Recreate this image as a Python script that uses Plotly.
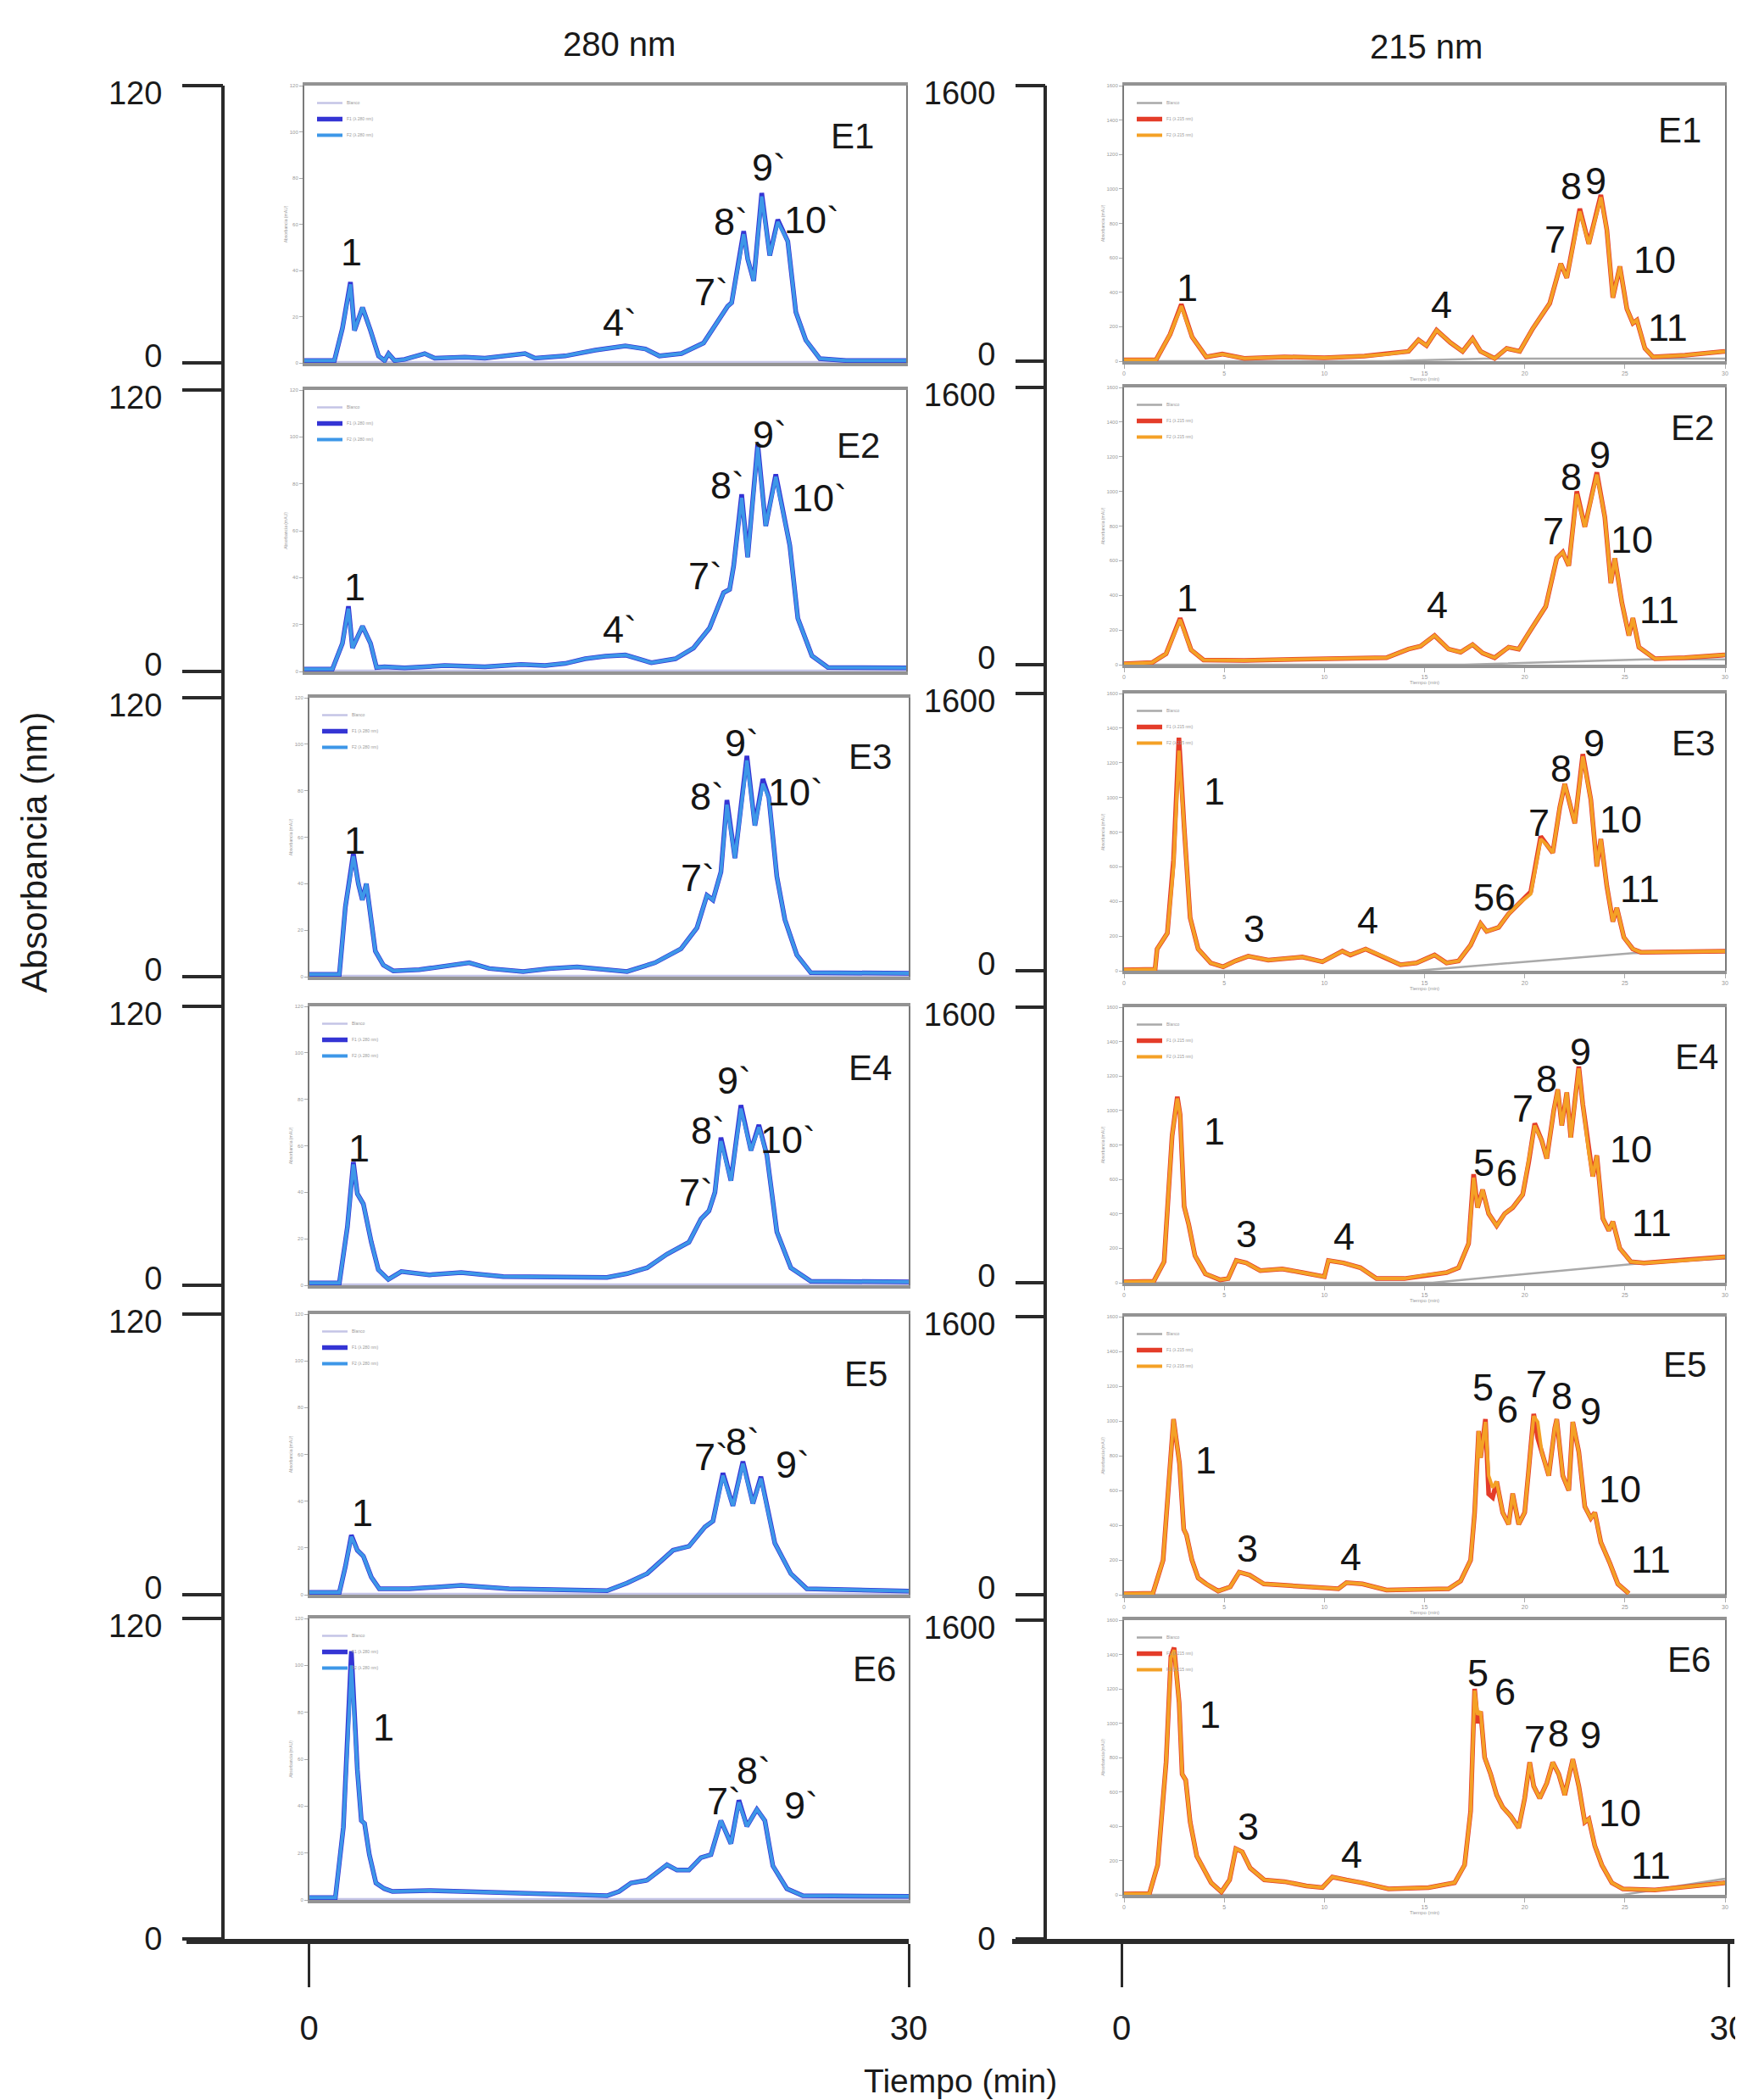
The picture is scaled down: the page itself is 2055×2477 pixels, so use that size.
import plotly.graph_objects as go

W, H = 2055, 2477
FONT_N = "Liberation Sans, Arial, sans-serif"
FONT_R = "Liberation Sans, Arial, sans-serif"

# ------------------------------------------------------------------ data
SAMPLES = ["E1", "E2", "E3", "E4", "E5", "E6"]
WAVELENGTHS = ["280 nm", "215 nm"]
OUTER_X_TICKS = [0, 30]
OUTER_Y_TOP_280 = 120
OUTER_Y_TOP_215 = 1600
INNER_X_TICKS = [0, 5, 10, 15, 20, 25, 30]
INNER_Y_TICKS_280 = [0, 20, 40, 60, 80, 100, 120]
INNER_Y_TICKS_215 = [0, 200, 400, 600, 800, 1000, 1200, 1400, 1600]
LEGEND_NAMES_280 = ["Blanco", "F1 (λ 280 nm)", "F2 (λ 280 nm)"]
LEGEND_NAMES_215 = ["Blanco", "F1 (λ 215 nm)", "F2 (λ 215 nm)"]

# ---- 280 nm (left column) : time (min), absorbance
T_280_E1 = [0, 1.5, 1.9, 2.3, 2.5, 2.9, 3.3, 3.7, 4.0, 4.2, 4.5, 5.0, 6.0, 6.5, 8.0, 9.0, 11.0, 11.5, 13.0, 14.5,
            16.0, 17.0, 17.7, 18.8, 19.9, 20.6, 21.1, 21.3, 21.6, 21.9, 22.1, 22.4, 22.8, 23.2, 23.6, 24.1, 24.5,
            25.0, 25.7, 27.0, 30.0]
F2_280_E1 = [1, 1, 15, 34, 14, 24, 14, 3, 1, 4, 1, 1.5, 4, 2, 2.5, 2, 4, 2, 3, 5.5,
             7.3, 6, 3, 4, 8.6, 18, 24.5, 26, 41.6, 55.7, 45, 35.5, 72, 46.5, 61, 52.6, 22,
             9.8, 1.8, 1, 1]
F1_280_E1 = [1, 1, 15, 35, 14, 24, 14, 3, 1, 4, 1, 1.5, 4, 2, 2.5, 2, 4, 2, 3, 5.5,
             7.3, 6, 3, 4, 8.6, 18, 24.5, 26, 41.6, 57, 45, 35.5, 73.5, 46.5, 62, 52.6, 22,
             9.8, 1.8, 1, 1]

T_280_E2 = [0, 1.4, 1.9, 2.2, 2.4, 2.9, 3.3, 3.6, 4.0, 5.0, 7.0, 9.0, 10.8, 12.0, 13.0, 14.0, 15.0, 16.0, 17.3,
            18.5, 19.4, 20.2, 20.9, 21.2, 21.4, 21.8, 22.1, 22.6, 23.0, 23.5, 24.2, 24.6, 25.3, 26.1, 30.0]
F2_280_E2 = [1, 1, 12, 26.8, 10, 19.3, 12, 1.7, 2, 1.5, 2.5, 2, 3, 2.5, 3.4, 5.4, 6.5, 7, 3.7,
             5.4, 10, 18.5, 33.6, 35, 45, 74, 48.7, 95.6, 62, 83, 53.7, 22.6, 6.7, 1.7, 1.5]
F1_280_E2 = [1, 1, 12, 27.8, 10, 19.3, 12, 1.7, 2, 1.5, 2.5, 2, 3, 2.5, 3.4, 5.4, 6.5, 7, 3.7,
             5.4, 10, 18.5, 33.6, 35, 45, 75.5, 48.7, 97, 62, 84, 53.7, 22.6, 6.7, 1.7, 1.5]

T_280_E3 = [0, 1.5, 1.8, 2.2, 2.45, 2.65, 2.85, 3.05, 3.3, 3.7, 4.2, 5.5, 8.0, 9.0, 10.7, 12.0, 13.4, 15.9, 17.3,
            18.6, 19.4, 19.9, 20.2, 20.6, 20.9, 21.3, 21.9, 22.3, 22.7, 23.0, 23.4, 23.8, 24.4, 25.1, 30.0]
F2_280_E3 = [1, 1, 30, 51.8, 40, 33, 40, 28, 11, 5, 2.5, 3, 6, 3.5, 2.2, 3.5, 4.2, 2.2, 6,
             12, 21, 35, 33, 45, 74, 51, 93, 65, 83, 77, 43, 24.6, 9.3, 1.7, 1.5]
F1_280_E3 = [1, 1, 30, 53, 40, 33, 40, 28, 11, 5, 2.5, 3, 6, 3.5, 2.2, 3.5, 4.2, 2.2, 6,
             12, 21, 35, 33, 45, 76, 51, 95, 65, 85, 77, 43, 24.6, 9.3, 1.7, 1.5]

T_280_E4 = [0, 1.5, 1.9, 2.2, 2.4, 2.7, 3.1, 3.45, 3.95, 4.6, 6.0, 7.6, 9.7, 12.0, 14.9, 15.9, 16.9, 17.9, 19.0,
            19.6, 20.0, 20.3, 20.6, 21.1, 21.6, 22.1, 22.5, 22.9, 23.4, 24.1, 25.1, 30.0]
F2_280_E4 = [1, 1, 25, 52, 39.4, 35, 18.5, 6.7, 2.5, 5.9, 4.5, 5.5, 3.7, 3.5, 3.4, 5, 7.5, 13.4, 18.5,
             28.5, 32, 40, 62, 45, 76, 58, 68, 56, 23, 7.5, 1.7, 1.5]
F1_280_E4 = [1, 1, 25, 53, 39.4, 35, 18.5, 6.7, 2.5, 5.9, 4.5, 5.5, 3.7, 3.5, 3.4, 5, 7.5, 13.4, 18.5,
             28.5, 32, 40, 63.5, 45, 77.5, 58, 69, 56, 23, 7.5, 1.7, 1.5]

T_280_E5 = [0, 1.5, 1.8, 2.1, 2.4, 2.7, 3.1, 3.5, 5.0, 7.6, 10.0, 14.9, 15.9, 16.9, 18.2, 19.0, 19.8, 20.2, 20.7,
            21.2, 21.7, 22.2, 22.6, 23.3, 24.1, 24.9, 30.0]
F2_280_E5 = [1, 1, 12, 24.8, 19, 16.5, 7.5, 2.5, 2.5, 4, 2.5, 1.7, 5, 9, 19, 20.7, 29, 31.5, 51,
             38, 56, 39, 49.7, 22, 9, 2.5, 1.5]
F1_280_E5 = [1, 1, 12, 25.5, 19, 16.5, 7.5, 2.5, 2.5, 4, 2.5, 1.7, 5, 9, 19, 20.7, 29, 31.5, 52,
             38, 57, 39, 50.5, 22, 9, 2.5, 1.5]

T_280_E6 = [0, 1.3, 1.7, 2.1, 2.4, 2.6, 2.76, 3.0, 3.33, 3.75, 4.16, 6.0, 8.0, 9.5, 12.0, 14.9, 15.5, 16.1, 16.9,
            17.9, 18.4, 19.0, 19.6, 20.1, 20.6, 21.1, 21.5, 21.9, 22.4, 22.8, 23.2, 23.9, 24.7, 30.0]
F2_280_E6 = [1, 1, 31, 100, 55.5, 33.8, 32.6, 19.3, 7.2, 4.8, 3.6, 4, 3.5, 3, 2.5, 1.8, 3.6, 7.2, 8.4,
             15, 12.7, 12.7, 18, 19.3, 33.8, 24, 41.6, 31.4, 38.6, 33.8, 14.5, 4.8, 1.8, 1.5]
F1_280_E6 = [1, 1, 31, 106, 55.5, 33.8, 32.6, 19.3, 7.2, 4.8, 3.6, 4, 3.5, 3, 2.5, 1.8, 3.6, 7.2, 8.4,
             15, 12.7, 12.7, 18, 19.3, 33.8, 24, 42.5, 31.4, 38.6, 33.8, 14.5, 4.8, 1.8, 1.5]

BLANK_T_280 = [0, 30]
BLANK_280 = [0.4, 0.4]

# ---- 215 nm (right column)
T_215_E1 = [0, 1.6, 2.3, 2.86, 3.4, 4.1, 4.9, 6.0, 8.0, 10.0, 12.0, 13.1, 14.2, 14.7, 15.1, 15.6, 16.3, 16.9, 17.4,
            17.8, 18.5, 19.1, 19.75, 20.4, 21.25, 21.8, 22.1, 22.75, 23.2, 23.8, 24.1, 24.4, 24.75, 25.1, 25.4,
            25.6, 26.0, 26.4, 28.0, 30.0]
F2_215_E1 = [8, 8, 156, 320, 140, 25, 41, 16, 25, 20, 30, 41, 57, 123, 90, 180, 107, 57, 131,
             57, 16, 74, 57, 189, 336, 566, 484, 870, 681, 952, 763, 369, 550, 304, 221,
             238, 74, 25, 35, 57]
F1_215_E1 = [8, 8, 156, 330, 140, 25, 41, 16, 25, 20, 30, 41, 57, 123, 90, 180, 107, 57, 131,
             57, 16, 74, 57, 189, 336, 566, 484, 885, 681, 965, 763, 369, 550, 304, 221,
             238, 74, 25, 35, 57]
BLANK_T_215_E1 = [0, 13, 18, 30]
BLANK_215_E1 = [0, 0, 15, 15]

T_215_E2 = [0, 1.4, 2.1, 2.8, 3.35, 3.97, 6.0, 9.0, 13.1, 14.2, 14.8, 15.5, 16.2, 16.8, 17.4, 17.9, 18.5, 19.2,
            19.7, 20.3, 21.05, 21.6, 21.9, 22.2, 22.6, 23.0, 23.6, 24.0, 24.3, 24.5, 24.85, 25.2, 25.4, 25.7,
            26.1, 26.5, 28.0, 30.0]
F2_215_E2 = [5, 12, 63, 260, 85, 27, 25, 30, 40, 90, 107, 168, 90, 72, 116, 67, 40, 101,
             90, 201, 336, 615, 649, 571, 985, 795, 1097, 851, 470, 615, 358, 168, 269, 101,
             67, 34, 40, 56]
F1_215_E2 = [5, 12, 63, 268, 85, 27, 25, 30, 40, 90, 107, 168, 90, 72, 116, 67, 40, 101,
             90, 201, 336, 615, 649, 571, 1000, 795, 1110, 851, 470, 615, 358, 168, 269, 101,
             67, 34, 40, 56]
BLANK_T_215_E2 = [0, 17, 26, 30]
BLANK_215_E2 = [0, 0, 30, 30]

T_215_E3 = [0, 1.55, 1.65, 2.16, 2.47, 2.74, 3.0, 3.3, 3.7, 4.33, 4.95, 5.57, 6.2, 7.2, 8.9, 9.9, 10.9, 11.3,
            12.06, 13.0, 13.8, 14.6, 15.5, 16.1, 16.7, 17.3, 17.8, 18.1, 18.7, 19.2, 19.8, 20.3, 20.8, 21.1,
            21.4, 21.75, 22.0, 22.5, 22.9, 23.3, 23.6, 23.8, 24.1, 24.4, 24.6, 24.95, 25.4, 25.8, 28.0, 30.0]
F2_215_E3 = [5, 8, 125, 216, 602, 1270, 830, 306, 125, 45, 23, 57, 84, 61, 79, 52, 113, 91,
             125, 79, 34, 45, 91, 45, 57, 148, 272, 227, 250, 329, 397, 443, 760, 726,
             681, 942, 1078, 851, 1237, 988, 602, 760, 488, 284, 363, 193, 125, 107, 110, 113]
F1_215_E3 = [5, 8, 125, 216, 640, 1345, 830, 306, 125, 45, 23, 57, 84, 61, 79, 52, 113, 91,
             125, 79, 34, 45, 91, 45, 57, 148, 272, 227, 250, 329, 397, 455, 775, 726,
             681, 942, 1078, 851, 1250, 988, 602, 760, 488, 284, 363, 193, 125, 107, 110, 113]
BLANK_T_215_E3 = [0, 14.6, 25.4, 30]
BLANK_215_E3 = [0, 0, 102, 108]

T_215_E4 = [0, 1.48, 2.0, 2.4, 2.66, 2.8, 3.0, 3.23, 3.54, 4.06, 4.8, 5.2, 5.6, 6.1, 6.8, 7.9, 8.9, 10.0, 10.2,
            10.95, 11.8, 12.6, 14.0, 15.1, 16.1, 16.7, 17.2, 17.45, 17.65, 17.9, 18.2, 18.6, 19.0, 19.4, 19.9,
            20.2, 20.5, 20.85, 21.1, 21.45, 21.65, 21.85, 22.1, 22.3, 22.7, 22.9, 23.2, 23.4, 23.6, 23.9, 24.2,
            24.4, 24.75, 25.3, 25.95, 28.0, 30.0]
F2_215_E4 = [5, 8, 122, 854, 1070, 976, 443, 338, 157, 52, 17, 24, 129, 115, 70, 80, 59, 35, 129,
             115, 87, 24, 24, 45, 59, 87, 227, 610, 436, 540, 401, 331, 401, 436, 512,
             721, 913, 826, 721, 1000, 1122, 913, 1105, 843, 1244, 1035, 756, 617, 739, 373, 303,
             355, 199, 122, 115, 130, 150]
F1_215_E4 = [5, 8, 122, 854, 1080, 976, 443, 338, 157, 52, 17, 24, 129, 115, 70, 80, 59, 35, 129,
             115, 87, 24, 24, 45, 59, 87, 227, 630, 436, 540, 401, 331, 401, 436, 512,
             700, 925, 826, 721, 1000, 1122, 913, 1105, 843, 1255, 1035, 756, 617, 739, 373, 303,
             355, 199, 122, 115, 130, 150]
BLANK_T_215_E4 = [0, 15.4, 25.95, 30]
BLANK_215_E4 = [0, 0, 115, 140]

T_215_E5 = [0, 1.44, 1.95, 2.47, 2.77, 2.98, 3.12, 3.39, 3.7, 4.1, 4.7, 5.3, 5.75, 6.27, 6.98, 9.0, 10.7, 11.1,
            11.9, 13.1, 16.2, 16.8, 17.3, 17.5, 17.7, 17.8, 18.04, 18.2, 18.4, 18.6, 18.9, 19.2, 19.4, 19.7,
            20.0, 20.2, 20.45, 20.65, 20.85, 21.2, 21.5, 21.6, 21.9, 22.2, 22.4, 22.7, 23.0, 23.3, 23.5, 23.8,
            24.25, 24.65, 25.2]
F2_215_E5 = [5, 8, 199, 1010, 754, 377, 343, 199, 96, 62, 21, 45, 130, 113, 62, 45, 34, 69,
             62, 27, 34, 79, 199, 473, 942, 788, 994, 685, 617, 651, 473, 405, 582, 405,
             473, 720, 1028, 994, 822, 685, 959, 1010, 685, 600, 994, 822, 507, 440, 473, 302,
             182, 62, 7]
F1_215_E5 = [5, 8, 199, 1010, 754, 377, 343, 199, 96, 62, 21, 45, 130, 113, 62, 45, 34, 69,
             62, 27, 34, 79, 199, 473, 942, 788, 1010, 580, 560, 651, 473, 405, 582, 405,
             473, 720, 1040, 900, 822, 685, 959, 1010, 685, 600, 994, 822, 507, 440, 473, 302,
             182, 62, 7]
BLANK_T_215_E5 = [0, 30]
BLANK_215_E5 = [0, 0]

T_215_E6 = [0, 1.27, 1.68, 2.1, 2.34, 2.5, 2.75, 2.9, 3.08, 3.3, 3.63, 3.94, 4.35, 4.86, 5.27, 5.58, 5.9, 6.3,
            7.0, 8.0, 9.1, 9.9, 10.4, 11.1, 11.9, 13.2, 15.2, 16.5, 17.0, 17.3, 17.5, 17.65, 17.8, 18.0, 18.3,
            18.6, 18.9, 19.3, 19.7, 20.0, 20.25, 20.45, 20.75, 21.1, 21.4, 21.7, 22.0, 22.4, 22.7, 23.0, 23.2,
            23.5, 23.85, 24.35, 24.9, 26.5, 30.0]
F2_215_E6 = [5, 8, 174, 772, 1381, 1426, 1120, 703, 668, 424, 226, 160, 70, 17, 87, 268, 250, 156,
             87, 77, 52, 42, 104, 87, 70, 35, 42, 70, 174, 487, 1190, 1050, 1068, 800, 703,
             581, 511, 459, 390, 563, 772, 633, 563, 650, 772, 703, 581, 790, 633, 424, 442,
             285, 174, 70, 35, 28, 70]
F1_215_E6 = [5, 8, 174, 772, 1390, 1440, 1120, 703, 668, 424, 226, 160, 70, 17, 87, 268, 250, 156,
             87, 77, 52, 42, 104, 87, 70, 35, 42, 70, 174, 487, 1200, 1000, 1068, 800, 703,
             581, 511, 459, 390, 563, 772, 633, 563, 650, 772, 703, 581, 790, 633, 424, 442,
             285, 174, 70, 35, 28, 70]
BLANK_T_215_E6 = [0, 24.9, 30]
BLANK_215_E6 = [0, 0, 94]

# peak labels (text, time, absorbance)
PEAKS_280 = {
    "E1": [("1", 2.35, 48), ("4`", 15.7, 17.5), ("7`", 20.3, 30.5), ("8`", 21.25, 61), ("9`", 23.15, 84.5), ("10`", 25.3, 62)],
    "E2": [("1", 2.5, 36), ("4`", 15.7, 18), ("7`", 20.0, 40.5), ("8`", 21.1, 79.5), ("9`", 23.2, 101), ("10`", 25.65, 74)],
    "E3": [("1", 2.25, 58.5), ("7`", 19.45, 42.5), ("8`", 19.9, 77.5), ("9`", 21.65, 100.5), ("10`", 24.35, 79.5)],
    "E4": [("1", 2.5, 59), ("7`", 19.35, 40), ("8`", 19.95, 66.5), ("9`", 21.25, 88), ("10`", 23.95, 62.5)],
    "E5": [("1", 2.65, 35), ("7`", 20.1, 59), ("8`", 21.7, 65.5), ("9`", 24.2, 55.5)],
    "E6": [("1", 3.7, 73.5), ("7`", 20.75, 42), ("8`", 22.25, 55), ("9`", 24.6, 40.3)],
}
PEAKS_215 = {
    "E1": [("1", 3.15, 428), ("4", 15.85, 325), ("7", 21.5, 705), ("8", 22.3, 1016), ("9", 23.55, 1048), ("10", 26.5, 588), ("11", 27.15, 195)],
    "E2": [("1", 3.15, 386), ("4", 15.65, 345), ("7", 21.45, 769), ("8", 22.3, 1083), ("9", 23.75, 1209), ("10", 25.35, 723), ("11", 26.7, 318)],
    "E3": [("1", 4.5, 1035), ("3", 6.5, 242), ("4", 12.15, 293), ("56", 18.5, 421), ("7", 20.7, 856), ("8", 21.8, 1167), ("9", 23.45, 1316), ("10", 24.8, 875), ("11", 25.75, 473)],
    "E4": [("1", 4.5, 877), ("3", 6.1, 284), ("4", 11.0, 268), ("5", 17.95, 695), ("6", 19.1, 638), ("7", 19.9, 1013), ("8", 21.1, 1182), ("9", 22.8, 1342), ("10", 25.3, 774), ("11", 26.35, 346)],
    "E5": [("1", 4.1, 771), ("3", 6.15, 264), ("4", 11.3, 215), ("5", 17.9, 1192), ("6", 19.15, 1066), ("7", 20.6, 1210), ("8", 21.85, 1143), ("9", 23.3, 1054), ("10", 24.75, 608), ("11", 26.3, 202)],
    "E6": [("1", 4.3, 1048), ("3", 6.2, 398), ("4", 11.35, 233), ("5", 17.65, 1291), ("6", 19.0, 1184), ("7", 20.5, 904), ("8", 21.7, 941), ("9", 23.3, 933), ("10", 24.75, 476), ("11", 26.3, 168)],
}
SAMPLE_LABEL_POS_280 = {"E1": (27.3, 98), "E2": (27.6, 96.5), "E3": (28.05, 94.5), "E4": (28.05, 93.5), "E5": (27.85, 94.3), "E6": (28.3, 98.5)}
SAMPLE_LABEL_POS_215 = {"E1": (27.75, 1342), "E2": (28.35, 1367), "E3": (28.4, 1312), "E4": (28.6, 1310), "E5": (28.0, 1322), "E6": (28.2, 1368)}

SERIES_280 = {
    "E1": (T_280_E1, F1_280_E1, F2_280_E1, BLANK_T_280, BLANK_280),
    "E2": (T_280_E2, F1_280_E2, F2_280_E2, BLANK_T_280, BLANK_280),
    "E3": (T_280_E3, F1_280_E3, F2_280_E3, BLANK_T_280, BLANK_280),
    "E4": (T_280_E4, F1_280_E4, F2_280_E4, BLANK_T_280, BLANK_280),
    "E5": (T_280_E5, F1_280_E5, F2_280_E5, BLANK_T_280, BLANK_280),
    "E6": (T_280_E6, F1_280_E6, F2_280_E6, BLANK_T_280, BLANK_280),
}
SERIES_215 = {
    "E1": (T_215_E1, F1_215_E1, F2_215_E1, BLANK_T_215_E1, BLANK_215_E1),
    "E2": (T_215_E2, F1_215_E2, F2_215_E2, BLANK_T_215_E2, BLANK_215_E2),
    "E3": (T_215_E3, F1_215_E3, F2_215_E3, BLANK_T_215_E3, BLANK_215_E3),
    "E4": (T_215_E4, F1_215_E4, F2_215_E4, BLANK_T_215_E4, BLANK_215_E4),
    "E5": (T_215_E5, F1_215_E5, F2_215_E5, BLANK_T_215_E5, BLANK_215_E5),
    "E6": (T_215_E6, F1_215_E6, F2_215_E6, BLANK_T_215_E6, BLANK_215_E6),
}

# ------------------------------------------------------------------ geometry (pixels)
def fx(x):
    return x / W


def fy(y):
    return 1 - y / H


FRAMES_280 = [(351, 1061, 93, 420), (351, 1061, 452, 784), (357, 1064, 815, 1144),
              (357, 1064, 1179, 1508), (357, 1064, 1542, 1873), (357, 1064, 1901, 2233)]
FRAMES_215 = [(1318, 2027, 93, 418), (1318, 2027, 449, 776), (1318, 2027, 810, 1137),
              (1318, 2027, 1180, 1505), (1318, 2027, 1545, 1873), (1318, 2027, 1903, 2227)]
AXIS_Y = 2279
COLS = [
    dict(series=SERIES_280, frames=FRAMES_280, peaks=PEAKS_280, slab=SAMPLE_LABEL_POS_280,
         yrange=[0, 120], inner_yt=INNER_Y_TICKS_280, top=OUTER_Y_TOP_280, names=LEGEND_NAMES_280,
         c_blank="#c4c4e6", c1="#3434d4", c2="#3d97e8", show_x=False,
         vline_x=255, xline=(212, 1064), x0=356.5, x30=1064, ticklen=48, title_x=722, title_y=44),
    dict(series=SERIES_215, frames=FRAMES_215, peaks=PEAKS_215, slab=SAMPLE_LABEL_POS_215,
         yrange=[0, 1600], inner_yt=INNER_Y_TICKS_215, top=OUTER_Y_TOP_215, names=LEGEND_NAMES_215,
         c_blank="#a9a9a9", c1="#e43c29", c2="#f4a126", show_x=True,
         vline_x=1225, xline=(1186, 2038), x0=1315, x30=2031, ticklen=35, title_x=1674, title_y=47),
]

fig = go.Figure()
layout = dict(width=W, height=H, autosize=False,
              margin=dict(l=0, r=0, t=0, b=0, pad=0, autoexpand=False),
              paper_bgcolor="white", plot_bgcolor="rgba(0,0,0,0)", showlegend=True,
              font=dict(family=FONT_N, color="#111"))
annotations = []

idx = 0
for c, col in enumerate(COLS):
    for r, sample in enumerate(SAMPLES):
        idx += 1
        xa, ya = ("x", "y") if idx == 1 else (f"x{idx}", f"y{idx}")
        lg = "legend" if idx == 1 else f"legend{idx}"
        t, f1, f2, bt, bv = col["series"][sample]
        x_l, x_r, y_t, y_b = col["frames"][r]
        fig.add_trace(go.Scatter(x=bt, y=bv, mode="lines", name=col["names"][0], xaxis=xa, yaxis=ya,
                                 legend=lg, line=dict(color=col["c_blank"], width=2.5), hoverinfo="skip"))
        fig.add_trace(go.Scatter(x=t, y=f1, mode="lines", name=col["names"][1], xaxis=xa, yaxis=ya,
                                 legend=lg, line=dict(color=col["c1"], width=5.5)))
        fig.add_trace(go.Scatter(x=t, y=f2, mode="lines", name=col["names"][2], xaxis=xa, yaxis=ya,
                                 legend=lg, line=dict(color=col["c2"], width=4)))
        xkey = "xaxis" if idx == 1 else f"xaxis{idx}"
        ykey = "yaxis" if idx == 1 else f"yaxis{idx}"
        layout[xkey] = dict(domain=[fx(x_l), fx(x_r)], range=[0, 30], anchor=ya, showgrid=False, zeroline=False,
                            showline=True, mirror=True, linecolor="#939393", linewidth=4,
                            tickvals=INNER_X_TICKS, ticks="outside" if col["show_x"] else "", ticklen=5,
                            tickcolor="#aaa", showticklabels=col["show_x"], automargin=False,
                            tickfont=dict(size=7, color="#999", family=FONT_R),
                            title=dict(text="Tiempo (min)" if col["show_x"] else "", standoff=2,
                                       font=dict(size=6, color="#999", family=FONT_R)))
        layout[ykey] = dict(domain=[fy(y_b), fy(y_t)], range=col["yrange"], anchor=xa, showgrid=False,
                            zeroline=False, showline=True, mirror=True, linecolor="#7a7a7a", linewidth=2,
                            tickvals=col["inner_yt"], ticks="outside", ticklen=4, tickcolor="#aaa",
                            automargin=False, tickfont=dict(size=6, color="#999", family=FONT_R),
                            title=dict(text="Absorbancia (mAU)", standoff=2,
                                       font=dict(size=5, color="#999", family=FONT_R)))
        layout[lg] = dict(x=fx(x_l + 10), y=fy(y_t + 6), xanchor="left", yanchor="top",
                          bgcolor="rgba(0,0,0,0)", font=dict(size=5, color="#999", family=FONT_R),
                          itemwidth=30, tracegroupgap=0, traceorder="normal")
        for txt, tx, ty in col["peaks"][sample]:
            annotations.append(dict(text=txt, x=tx, y=ty, xref=xa, yref=ya, showarrow=False,
                                    font=dict(size=45, color="#151515", family=FONT_N),
                                    xanchor="center", yanchor="middle"))
        sx, sy = col["slab"][sample]
        annotations.append(dict(text=sample, x=sx, y=sy, xref=xa, yref=ya, showarrow=False,
                                font=dict(size=42, color="#1a1a1a", family=FONT_N),
                                xanchor="center", yanchor="middle"))

# ---- outer broken axes
for c, col in enumerate(COLS):
    xo = 13 + c
    base = 13 + c * 13
    xs, xe = col["xline"]
    ppm = (col["x30"] - col["x0"]) / 30.0
    rng = [(xs - col["x0"]) / ppm, (xe - col["x0"]) / ppm]
    layout[f"xaxis{xo}"] = dict(domain=[fx(xs), fx(xe)], range=rng, anchor=f"y{base}", showgrid=False,
                                zeroline=False, showline=True, linecolor="#2a2a2a", linewidth=6,
                                tickvals=OUTER_X_TICKS, ticks="outside", ticklen=51, tickwidth=3,
                                tickcolor="#2a2a2a", ticklabelstandoff=14, automargin=False,
                                tickfont=dict(size=40, color="#1a1a1a", family=FONT_N))
    layout[f"yaxis{base}"] = dict(domain=[fy(AXIS_Y), fy(col["frames"][0][2])], range=[0, 1], anchor="free",
                                  position=fx(col["vline_x"]), showgrid=False, zeroline=False, showline=True,
                                  linecolor="#2a2a2a", linewidth=4, ticks="", showticklabels=False,
                                  automargin=False)
    fig.add_trace(go.Scatter(x=[None], y=[None], xaxis=f"x{xo}", yaxis=f"y{base}", showlegend=False,
                             hoverinfo="skip"))
    for r in range(6):
        top = col["frames"][r][2]
        bot = AXIS_Y if r == 5 else col["frames"][r][3]
        shifts = [(col["top"], 9), (0, -8 if r < 5 else 0)]
        for k, (val, shift) in enumerate(shifts):
            yk = base + 1 + 2 * r + k
            layout[f"yaxis{yk}"] = dict(domain=[fy(bot), fy(top)], range=col["yrange"], anchor="free",
                                        position=fx(col["vline_x"]), showgrid=False, zeroline=False,
                                        showline=False, tickvals=[val], ticks="outside",
                                        ticklen=col["ticklen"], tickwidth=4, tickcolor="#2a2a2a",
                                        ticklabelstandoff=16, ticklabelshift=shift, automargin=False,
                                        tickfont=dict(size=38, color="#1a1a1a", family=FONT_N))
            fig.add_trace(go.Scatter(x=[None], y=[None], xaxis=f"x{xo}", yaxis=f"y{yk}", showlegend=False,
                                     hoverinfo="skip"))
    annotations.append(dict(text=WAVELENGTHS[c], x=fx(col["title_x"]), y=fy(col["title_y"]), xref="paper",
                            yref="paper", showarrow=False, xanchor="center", yanchor="middle",
                            font=dict(size=40, color="#1a1a1a", family=FONT_N)))

annotations.append(dict(text="Tiempo (min)", x=fx(1125), y=fy(2446), xref="paper", yref="paper",
                        showarrow=False, xanchor="center", yanchor="middle",
                        font=dict(size=39, color="#1a1a1a", family=FONT_N)))
annotations.append(dict(text="Absorbancia (nm)", x=fx(32), y=fy(998), xref="paper", yref="paper",
                        showarrow=False, xanchor="center", yanchor="middle", textangle=-90,
                        font=dict(size=42, color="#1a1a1a", family=FONT_R)))
layout["annotations"] = annotations
fig.update_layout(**layout)
fig.write_html("out.html")
